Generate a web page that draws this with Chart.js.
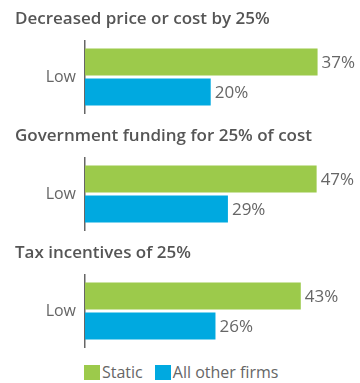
<!DOCTYPE html>
<html>
<head>
<meta charset="utf-8">
<script src="https://cdn.jsdelivr.net/npm/chart.js@4"></script>
<style>
  body { margin: 0; background: #fff; font-family: 'Open Sans', sans-serif; }
  .panel { width: 360px; height: 117px; position: relative; }
  canvas { display: block; }
  #legend { position: absolute; left: 84px; top: 361px; display: flex; align-items: center; color: #666; font-size: 16px; }
  #legend span.box { display: inline-block; width: 16px; height: 15px; margin-right: 2px; }
  #legend span.item { display: flex; align-items: center; margin-right: 12px; }
</style>
</head>
<body>
<div class="panel"><canvas id="c0" width="360" height="117"></canvas></div>
<div class="panel"><canvas id="c1" width="360" height="117"></canvas></div>
<div class="panel"><canvas id="c2" width="360" height="117"></canvas></div>
<div id="legend"></div>

<script>
// chart data
const panelTitles = [
  'Decreased price or cost by 25%',
  'Government funding for 25% of cost',
  'Tax incentives of 25%'
];
const categories = ['Low'];
const seriesNames = ['Static', 'All other firms'];
const staticValues = [37, 47, 43];
const otherValues = [20, 29, 26];
// each panel has its own scale in the original
const axisMax = [43.75, 55.8, 54.8];

const colors = ['#9cca4b', '#00a9e0'];
const textColor = '#666';
const fontFamily = "'Open Sans', sans-serif";

// "37%" style labels at the end of each bar
const valueLabels = {
  id: 'valueLabels',
  afterDatasetsDraw(chart) {
    const ctx = chart.ctx;
    ctx.save();
    ctx.font = '17px ' + fontFamily;
    ctx.fillStyle = textColor;
    ctx.textBaseline = 'middle';
    ctx.textAlign = 'left';
    chart.data.datasets.forEach((ds, i) => {
      const meta = chart.getDatasetMeta(i);
      meta.data.forEach((bar, j) => {
        ctx.fillText(ds.data[j] + '%', bar.x + 4, bar.y + 1);
      });
    });
    ctx.restore();
  }
};

panelTitles.forEach((title, i) => {
  const ctx = document.getElementById('c' + i).getContext('2d');
  new Chart(ctx, {
    type: 'bar',
    data: {
      labels: categories,
      datasets: [
        { label: seriesNames[0], data: [staticValues[i]], backgroundColor: colors[0] },
        { label: seriesNames[1], data: [otherValues[i]], backgroundColor: colors[1] }
      ]
    },
    options: {
      indexAxis: 'y',
      responsive: false,
      animation: false,
      categoryPercentage: 0.833,
      barPercentage: 0.9,
      layout: { padding: { left: 15, right: 0, top: 0, bottom: 4 } },
      scales: {
        x: { display: false, min: 0, max: axisMax[i] },
        y: {
          grid: { display: false, drawTicks: false },
          border: { display: true, color: '#666', width: 1.5 },
          ticks: { color: textColor, padding: 9, font: { size: 16, family: fontFamily } },
          afterFit(scale) {
            scale.width = 70;
            scale.paddingTop = 0;
            scale.paddingBottom = 0;
          }
        }
      },
      plugins: {
        legend: { display: false },
        tooltip: { enabled: false },
        title: {
          display: true,
          text: title,
          align: 'start',
          color: '#555',
          font: { size: 17, weight: '600', family: fontFamily },
          padding: { top: 9, bottom: 11.6 }
        }
      }
    },
    plugins: [valueLabels]
  });
});

// legend below the last panel
const legend = document.getElementById('legend');
seriesNames.forEach((name, i) => {
  const item = document.createElement('span');
  item.className = 'item';
  const box = document.createElement('span');
  box.className = 'box';
  box.style.background = colors[i];
  item.appendChild(box);
  item.appendChild(document.createTextNode(name));
  legend.appendChild(item);
});
</script>
</body>
</html>
